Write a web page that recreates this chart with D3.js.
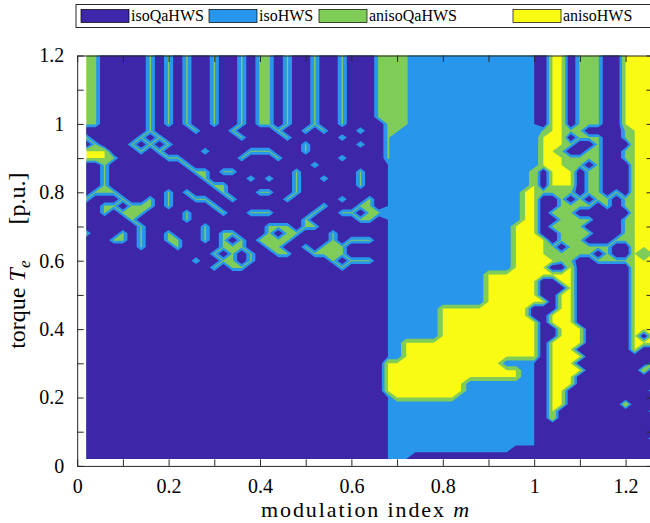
<!DOCTYPE html>
<html>
<head>
<meta charset="utf-8">
<script src="https://cdn.jsdelivr.net/npm/d3@7"></script>
<style>
  body { margin: 0; background: #fff; }
  svg { display: block; }
  text { font-family: "Liberation Serif", "DejaVu Serif", serif; fill: #000; }
</style>
</head>
<body>
<script>
// Region labels and their colours (parula, 4 levels)
const legendLabels = ["isoQaHWS", "isoHWS", "anisoQaHWS", "anisoHWS"];
const regionColors = ["#3e26a8", "#2796eb", "#80cc59", "#f9fb15"];

// Sample grid: modulation index (columns) and torque (rows, top first)
const mValues = [0.02, 0.04, 0.06, 0.08, 0.10, 0.12, 0.14, 0.16, 0.18, 0.20,
  0.22, 0.24, 0.26, 0.28, 0.30, 0.32, 0.34, 0.36, 0.38, 0.40,
  0.42, 0.44, 0.46, 0.48, 0.50, 0.52, 0.54, 0.56, 0.58, 0.60,
  0.62, 0.64, 0.66, 0.68, 0.70, 0.72, 0.74, 0.76, 0.78, 0.80,
  0.82, 0.84, 0.86, 0.88, 0.90, 0.92, 0.94, 0.96, 0.98, 1.00,
  1.02, 1.04, 1.06, 1.08, 1.10, 1.12, 1.14, 1.16, 1.18, 1.20,
  1.22, 1.24, 1.26];
const teValues = [1.20, 1.18, 1.16, 1.14, 1.12, 1.10, 1.08, 1.06, 1.04, 1.02,
  1.00, 0.98, 0.96, 0.94, 0.92, 0.90, 0.88, 0.86, 0.84, 0.82,
  0.80, 0.78, 0.76, 0.74, 0.72, 0.70, 0.68, 0.66, 0.64, 0.62,
  0.60, 0.58, 0.56, 0.54, 0.52, 0.50, 0.48, 0.46, 0.44, 0.42,
  0.40, 0.38, 0.36, 0.34, 0.32, 0.30, 0.28, 0.26, 0.24, 0.22,
  0.20, 0.18, 0.16, 0.14, 0.12, 0.10, 0.08, 0.06, 0.04, 0.02];

const xTickValues = [0, 0.1, 0.2, 0.3, 0.4, 0.5, 0.6, 0.7, 0.8, 0.9, 1, 1.1, 1.2];
const yTickValues = [0, 0.1, 0.2, 0.3, 0.4, 0.5, 0.6, 0.7, 0.8, 0.9, 1, 1.1, 1.2];
const xTickLabels = { 0: "0", 0.2: "0.2", 0.4: "0.4", 0.6: "0.6", 0.8: "0.8", 1: "1", 1.2: "1.2" };
const yTickLabels = { 0: "0", 0.2: "0.2", 0.4: "0.4", 0.6: "0.6", 0.8: "0.8", 1: "1", 1.2: "1.2" };

// Region code per grid point (1 = isoQaHWS ... 4 = anisoHWS), one row per torque value
const regionRows = [
  "3311111313 1311311313 3131131131 1133332222 2222222222 1441333114 444",
  "3311111313 1311311313 3131131131 1133332222 2222222222 1441333114 444",
  "3311111313 1311311313 3131131131 1133332222 2222222222 1441333114 444",
  "3311111313 1311311313 3131131131 1133332222 2222222222 1441333114 444",
  "3311111313 1311311313 3131131131 1133332222 2222222222 1441333114 444",
  "3311111313 1311311313 3131131131 1133332222 2222222222 1441333114 444",
  "3311111313 1311311313 3131131131 1133332222 2222222222 1441333114 444",
  "3311111313 1311311313 3131131131 1133332222 2222222222 1441333114 444",
  "3311111313 1311311313 3131131131 1133332222 2222222222 1441333114 444",
  "3311111313 1311311313 3131131131 1133332222 2222222222 1441333114 444",
  "3311111313 1311311313 3131131131 1113332222 2222222222 1441333114 444",
  "1111111311 1131113111 1311313111 3113322222 2222222222 3443311113 444",
  "3111113131 1111111311 1131111131 1113222222 2222222222 4441333113 444",
  "1311131313 1111111111 1111311111 3113222222 2222222222 4443113111 444",
  "4441113131 1113111133 3111311111 1113222222 2222222222 4431133113 444",
  "4443111113 3111111311 1311111131 1113222222 2222222222 4443333113 444",
  "1131111111 1311111111 1111131111 1112222222 2222222222 4443313111 444",
  "1131111111 1133133111 1113111111 3112222222 2222222224 1444133111 444",
  "1131111111 1113111131 3113113111 3112222222 2222222224 1444133111 444",
  "1131111111 1111331111 1113111111 3112222222 2222222224 1444133111 444",
  "1333111113 1311131113 3113111111 1112222222 2222222244 3333133131 444",
  "3111311313 1133113111 1131111131 1312222222 2222222244 1131313313 444",
  "1133133313 1111311111 1111113111 3312222222 2222222244 1133331313 444",
  "1131333111 1311131133 3111131133 1332222222 2222222244 1333111111 444",
  "1111131111 1311111111 1111311111 3312222222 2222222244 1133331113 444",
  "1111113111 1113111111 3331331111 1112222222 2222222444 1333311113 444",
  "3111313113 1113133111 3133111311 1112222222 2222222444 1133331113 444",
  "1113313113 3113131313 3331111313 3312222222 2222222444 4133311133 444",
  "1111113111 3111133311 3311313331 1112222222 2222222444 4313333311 444",
  "1111111111 1111313131 1331133331 1112222222 2222222444 4333331311 434",
  "1111111111 1131133131 1111111313 3312222222 2222222444 4433113333 444",
  "1111111111 1111313311 1111111131 1112222222 2222222444 4114111111 444",
  "1111111111 1111111111 1111111111 1112222222 2222444444 4444111111 444",
  "1111111111 1111111111 1111111111 1112222222 2222444444 1144111111 444",
  "1111111111 1111111111 1111111111 1112222222 2222444444 1114111111 444",
  "1111111111 1111111111 1111111111 1112222222 2222444444 1144111111 444",
  "1111111111 1111111111 1111111111 1112222222 2222444444 4144111111 444",
  "1111111111 1111111111 1111111111 1112222224 4444444441 1144111111 444",
  "1111111111 1111111111 1111111111 1112222224 4444444441 1444111111 444",
  "1111111111 1111111111 1111111111 1112222224 4444444444 1444111111 444",
  "1111111111 1111111111 1111111111 1112222224 4444444444 1144411111 444",
  "1111111111 1111111111 1111111111 1112222224 4444444444 1144411111 414",
  "1111111111 1111111111 1111111111 1112244444 4444444444 1444411111 444",
  "1111111111 1111111111 1111111111 1112244444 4444444444 1444111111 411",
  "1111111111 1111111111 1111111111 1112244444 4444444444 1444411111 111",
  "1111111111 1111111111 1111111111 1114444444 4444442222 1444111111 113",
  "1111111111 1111111111 1111111111 1114444444 4444444422 1444411111 141",
  "1111111111 1111111111 1111111111 1114444444 4444444422 1444111111 111",
  "1111111111 1111111111 1111111111 1114444444 4422222222 1444111111 111",
  "1111111111 1111111111 1111111111 1114444444 4422222222 1441111111 113",
  "1111111111 1111111111 1111111111 1112444444 4222222222 1441111111 111",
  "1111111111 1111111111 1111111111 1112222222 2222222222 1441111114 111",
  "1111111111 1111111111 1111111111 1112222222 2222222222 1411111111 113",
  "1111111111 1111111111 1111111111 1112222222 2222222222 1411111111 111",
  "1111111111 1111111111 1111111111 1112222222 2222222222 1111111111 111",
  "1111111111 1111111111 1111111111 1112222222 2222222222 1111111111 111",
  "1111111111 1111111111 1111111111 1112222222 2222222222 1111111111 113",
  "1111111111 1111111111 1111111111 1112222222 2222222222 1111111111 111",
  "1111111111 1111111111 1111111111 1112222222 2222222111 1111111111 111",
  "1111111111 1111111111 1111111111 1112221111 1111111111 1111111111 111"
];

// Figure layout
const W = 650, H = 523;
const margin = { top: 55.5, left: 77.2, bottom: 57.1 };
const plotRight = 653;

const svg = d3.select("body")
  .append("svg")
  .attr("width", W)
  .attr("height", H);

const x = d3.scaleLinear().domain([0, 1.26]).range([margin.left, plotRight]);
const y = d3.scaleLinear().domain([0, 1.2]).range([H - margin.bottom, margin.top]);

// Grid values for the contour generator
const nCols = mValues.length;
const nRows = teValues.length;
const grid = [];
regionRows.forEach(r => {
  const cells = r.replace(/ /g, "").split("").map(Number);
  for (let i = 0; i < nCols; i++) grid.push(cells[i] || 1);
});

const gx = d3.scaleLinear().domain([0.5, nCols - 0.5]).range([x(mValues[0]), x(mValues[nCols - 1])]);
const gy = d3.scaleLinear().domain([0.5, nRows - 0.5]).range([y(teValues[0]), y(teValues[nRows - 1])]);
const toScreen = d3.geoTransform({
  point(px, py) { this.stream.point(gx(px), gy(py)); }
});
const path = d3.geoPath(toScreen);

const dataX = x(mValues[0]);
const dataY = y(teValues[0]);
const dataW = x(mValues[nCols - 1]) - dataX;
const dataH = y(teValues[nRows - 1]) - dataY;

svg.append("clipPath")
  .attr("id", "data-clip")
  .append("rect")
  .attr("x", dataX).attr("y", dataY)
  .attr("width", dataW).attr("height", dataH);

const plot = svg.append("g").attr("clip-path", "url(#data-clip)");

// Painted from the top level down: the highest region is the background,
// each lower region is laid over it (contours of the negated field, so that
// saddle cells join the higher values like contourf does).
plot.append("rect")
  .attr("x", dataX).attr("y", dataY)
  .attr("width", dataW).attr("height", dataH)
  .style("fill", regionColors[3]);

const paintCuts = [3.999999, 2.85, 1.999999];   // upper limits of green, blue, dark
const negGrid = grid.map(v => -v);
const bands = d3.contours()
  .size([nCols, nRows])
  .thresholds(paintCuts.map(c => -c))(negGrid);

plot.selectAll("path.band")
  .data(bands)
  .enter()
  .append("path")
  .attr("class", "band")
  .attr("d", path)
  .style("fill", (d, i) => regionColors[2 - i]);

// Axes (ticks pointing inward, box on)
const tickLen = 6.5;
const styleAxis = g => {
  g.selectAll("path.domain").attr("stroke", "#262626").attr("stroke-width", 1);
  g.selectAll(".tick line").attr("stroke", "#262626").attr("stroke-width", 1);
  g.selectAll(".tick text")
    .style("font-family", '"Liberation Serif", serif')
    .style("font-size", "20px")
    .attr("fill", "#000");
};

svg.append("g")
  .attr("transform", `translate(0,${y(0)})`)
  .call(d3.axisBottom(x).tickValues(xTickValues).tickSize(-tickLen).tickSizeOuter(0)
    .tickPadding(13).tickFormat(d => xTickLabels[d] || ""))
  .call(styleAxis);

svg.append("g")
  .attr("transform", `translate(0,${y(1.2)})`)
  .call(d3.axisTop(x).tickValues(xTickValues).tickSize(-tickLen).tickSizeOuter(0).tickFormat(""))
  .call(styleAxis);

svg.append("g")
  .attr("transform", `translate(${x(0)},0)`)
  .call(d3.axisLeft(y).tickValues(yTickValues).tickSize(-tickLen).tickSizeOuter(0)
    .tickPadding(13).tickFormat(d => yTickLabels[d] || ""))
  .call(styleAxis);

svg.append("g")
  .attr("transform", `translate(${x(1.26)},0)`)
  .call(d3.axisRight(y).tickValues(yTickValues).tickSize(-tickLen).tickSizeOuter(0).tickFormat(""))
  .call(styleAxis);

// Axis labels
const xLabel = svg.append("text")
  .attr("x", (x(0) + x(1.26)) / 2)
  .attr("y", H - 6)
  .attr("textLength", 208)
  .attr("lengthAdjust", "spacing")
  .style("text-anchor", "middle")
  .style("font-size", "22px");
xLabel.append("tspan").text("modulation index ");
xLabel.append("tspan").style("font-style", "italic").text("m");

const yLabel = svg.append("text")
  .attr("transform", `translate(25,${(y(0) + y(1.2)) / 2}) rotate(-90)`)
  .style("text-anchor", "middle")
  .style("font-size", "24px");
yLabel.append("tspan").text("torque ");
yLabel.append("tspan").style("font-style", "italic").text("T");
yLabel.append("tspan").style("font-style", "italic").style("font-size", "17px").attr("dy", 5).text("e");
yLabel.append("tspan").attr("dy", -5).text("\u2003\u2002[p.u.]");

// Legend
const legendStarts = [81, 209, 319, 513];
const legend = svg.append("g");
legend.append("rect")
  .attr("x", 76)
  .attr("y", 4.5)
  .attr("width", 620)
  .attr("height", 23)
  .style("fill", "#fff")
  .style("stroke", "#262626")
  .style("stroke-width", 1);

const items = legend.selectAll(".legend-item")
  .data(legendLabels)
  .enter()
  .append("g")
  .attr("class", "legend-item")
  .attr("transform", (d, i) => `translate(${legendStarts[i]},0)`);

items.append("rect")
  .attr("x", 0)
  .attr("y", 9.5)
  .attr("width", 48)
  .attr("height", 13)
  .style("fill", (d, i) => regionColors[i])
  .style("stroke", "#000")
  .style("stroke-width", 0.7);

items.append("text")
  .attr("x", 50)
  .attr("y", 21)
  .style("font-size", "16px")
  .text(d => d);
</script>
</body>
</html>
